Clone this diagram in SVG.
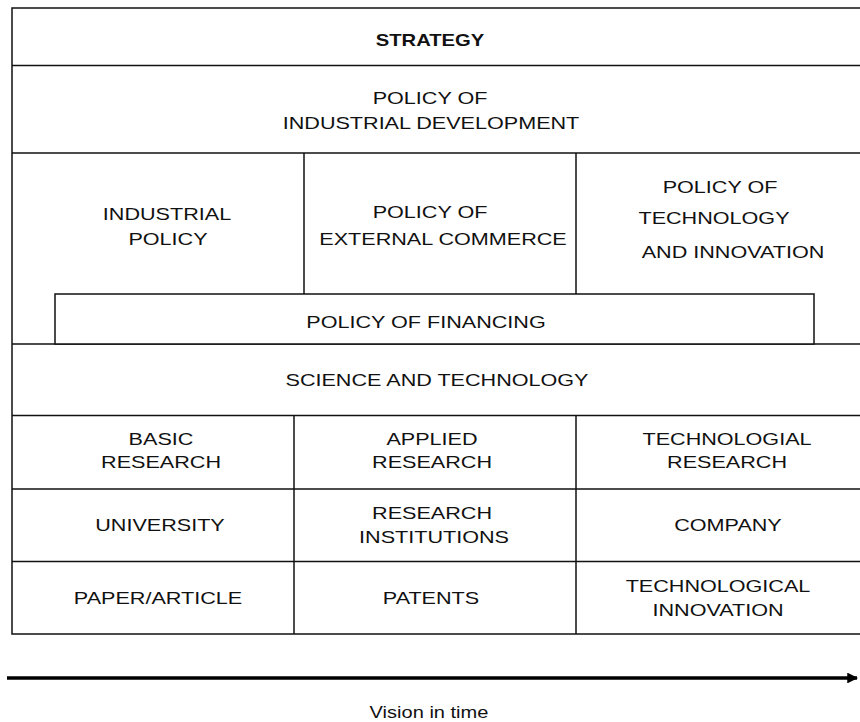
<svg xmlns="http://www.w3.org/2000/svg" width="860" height="722" viewBox="0 0 860 722">
  <style>
    .cell { fill: #ffffff; stroke: #111111; stroke-width: 1.5; }
    .rule { stroke: #111111; stroke-width: 1.5; fill: none; }
    text { font-family: "Liberation Sans", Arial, sans-serif; font-size: 17px; fill: #111111; text-anchor: middle; }
    .bold { font-weight: bold; }
  </style>
  <defs>
    <marker id="arrowHead" viewBox="0 0 10 10" refX="9" refY="5" markerWidth="3" markerHeight="3" orient="auto" markerUnits="strokeWidth">
      <path d="M0,0 L10,5 L0,10 z" fill="#000000"/>
    </marker>
  </defs>

  <rect x="0" y="0" width="860" height="722" fill="#ffffff"/>

  <!-- outer frame, runs past the right edge -->
  <rect class="cell" x="12" y="8" width="870" height="626"/>

  <!-- labels are set in a horizontally widened face: translate to the anchor, then stretch -->
  <g id="strategy">
    <line class="rule" x1="12" y1="65.5" x2="870" y2="65.5"/>
    <text class="bold" transform="translate(430 46) scale(1.19 1)">STRATEGY</text>
  </g>

  <g id="industrial-development">
    <line class="rule" x1="12" y1="153" x2="870" y2="153"/>
    <text transform="translate(430 104) scale(1.27 1)">POLICY OF</text>
    <text transform="translate(431 129) scale(1.27 1)">INDUSTRIAL DEVELOPMENT</text>
  </g>

  <g id="industrial-policy">
    <line class="rule" x1="304" y1="153" x2="304" y2="294"/>
    <text transform="translate(167 220) scale(1.27 1)">INDUSTRIAL</text>
    <text transform="translate(168 245) scale(1.27 1)">POLICY</text>
  </g>

  <g id="external-commerce">
    <line class="rule" x1="576" y1="153" x2="576" y2="294"/>
    <text transform="translate(430 218) scale(1.27 1)">POLICY OF</text>
    <text transform="translate(443 245) scale(1.27 1)">EXTERNAL COMMERCE</text>
  </g>

  <g id="technology-innovation">
    <text transform="translate(720 193) scale(1.27 1)">POLICY OF</text>
    <text transform="translate(714 224) scale(1.27 1)">TECHNOLOGY</text>
    <text transform="translate(733 258) scale(1.27 1)">AND INNOVATION</text>
  </g>

  <g id="financing">
    <line class="rule" x1="12" y1="344" x2="870" y2="344"/>
    <rect class="cell" x="55" y="294" width="759" height="50"/>
    <text transform="translate(426 328) scale(1.27 1)">POLICY OF FINANCING</text>
  </g>

  <g id="science-technology">
    <line class="rule" x1="12" y1="415.5" x2="870" y2="415.5"/>
    <text transform="translate(437 386) scale(1.27 1)">SCIENCE AND TECHNOLOGY</text>
  </g>

  <g id="column-rules">
    <line class="rule" x1="294" y1="415.5" x2="294" y2="634"/>
    <line class="rule" x1="576" y1="415.5" x2="576" y2="634"/>
    <line class="rule" x1="12" y1="489" x2="870" y2="489"/>
    <line class="rule" x1="12" y1="561.5" x2="870" y2="561.5"/>
  </g>

  <g id="basic-research">
    <text transform="translate(161 445) scale(1.27 1)">BASIC</text>
    <text transform="translate(161 468) scale(1.27 1)">RESEARCH</text>
  </g>
  <g id="applied-research">
    <text transform="translate(432 445) scale(1.27 1)">APPLIED</text>
    <text transform="translate(432 468) scale(1.27 1)">RESEARCH</text>
  </g>
  <g id="technological-research">
    <text transform="translate(727 445) scale(1.27 1)">TECHNOLOGIAL</text>
    <text transform="translate(727 468) scale(1.27 1)">RESEARCH</text>
  </g>

  <g id="university">
    <text transform="translate(160 531) scale(1.27 1)">UNIVERSITY</text>
  </g>
  <g id="research-institutions">
    <text transform="translate(432 519) scale(1.27 1)">RESEARCH</text>
    <text transform="translate(434 543) scale(1.27 1)">INSTITUTIONS</text>
  </g>
  <g id="company">
    <text transform="translate(728 531) scale(1.27 1)">COMPANY</text>
  </g>

  <g id="paper-article">
    <text transform="translate(158 604) scale(1.27 1)">PAPER/ARTICLE</text>
  </g>
  <g id="patents">
    <text transform="translate(431 604) scale(1.27 1)">PATENTS</text>
  </g>
  <g id="technological-innovation">
    <text transform="translate(718 592) scale(1.27 1)">TECHNOLOGICAL</text>
    <text transform="translate(718 616) scale(1.27 1)">INNOVATION</text>
  </g>

  <g id="connectors">
    <line x1="7" y1="678" x2="857" y2="678" stroke="#000000" stroke-width="3.6" marker-end="url(#arrowHead)"/>
  </g>

  <g id="time-label">
    <text transform="translate(429 718) scale(1.18 1)">Vision in time</text>
  </g>
</svg>
